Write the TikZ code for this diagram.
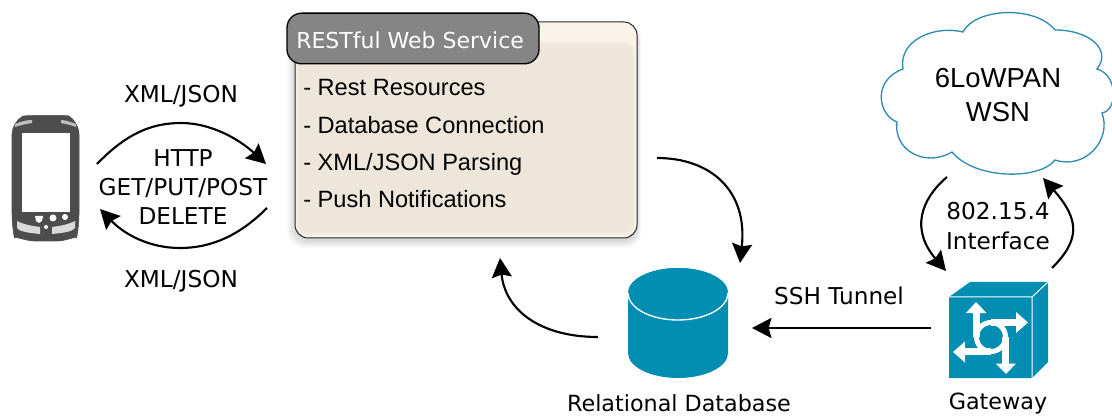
\documentclass[tikz,border=0pt]{standalone}
\usepackage{fontspec}
\setmainfont{DejaVu Sans}
\newfontfamily\boxfont{Liberation Sans}
\usetikzlibrary{arrows.meta}
\definecolor{teal}{RGB}{2,141,178}
\definecolor{cloudline}{RGB}{45,140,180}
\definecolor{paperlight}{RGB}{249,243,234}
\definecolor{paper}{RGB}{239,230,219}
\definecolor{phonegrey}{RGB}{77,77,77}
\definecolor{titlegrey}{RGB}{133,133,133}
\tikzset{
  link/.style={line width=1.6pt,-{Stealth[length=14.5pt,width=15pt,inset=2pt]}},
  label/.style={inner sep=0.75pt,align=center,font=\fontsize{17.4}{22}\selectfont},
  caption/.style={inner sep=0.75pt,align=center,font=\fontsize{16.7}{20}\selectfont},
  item/.style={inner sep=0pt,anchor=base west,font=\boxfont\fontsize{17.7}{20}\selectfont},
}
\begin{document}
\begin{tikzpicture}[x=0.75pt,y=0.75pt,yscale=-1,xscale=1]
        \useasboundingbox (0,0) rectangle (1112,416);

        %Shape: Phone
        \draw [phonegrey,fill=phonegrey,rounded corners=9] (12,122) .. controls (25,115) and (67,115) .. (79,122) -- (79,226) .. controls (77,236) and (65,241) .. (46,241) .. controls (27,241) and (14,236) .. (12,226) -- cycle ;
        \fill [white] (22,133) rectangle (70,212);
        \fill [white!75!black] (15,124) .. controls (20,122) and (26,120) .. (32,120) -- (32,123) .. controls (26,124) and (21,125) .. (15,127) -- cycle ;
        \fill [white!75!black] (76,124) .. controls (71,122) and (65,120) .. (61,120) -- (61,123) .. controls (65,124) and (71,125) .. (76,127) -- cycle ;
        \fill [white!85!black] (17,221) .. controls (25,225) and (33,226) .. (40,227) -- (40,234) .. controls (30,233) and (20,232) .. (17,228) -- cycle ;
        \fill [white!85!black] (75,221) .. controls (67,225) and (59,226) .. (52,227) -- (52,234) .. controls (62,233) and (72,232) .. (75,228) -- cycle ;
        \fill [white] (35,216) -- (43,216) -- (42,221) -- (39,223) -- (36,221) -- cycle ;
        \fill [white] (53,218) circle (3.5) ;
        \fill [white] (65,217) circle (3) ;
        \fill [white] (46,227) circle (2) ;

        %Shape: Service box
        \foreach \i in {1,...,8}
            \fill [black,opacity=0.018,rounded corners=12] (295-\i,26-\i*0.5) rectangle (637+\i*0.5,240+\i) ;
        \node (service) [draw=black!85,line width=0.75pt,fill=paperlight,rounded corners=10,minimum width=256.5pt,minimum height=162pt,inner sep=0pt] at (466,130) {} ;
        \foreach \i in {1,...,6}
            \fill [paper,opacity=0.4,rounded corners=8] (296+\i*0.7,40+\i*1.5) rectangle (636-\i*0.9,236-\i) ;
        \node (title) [draw=black,line width=1pt,fill=titlegrey,rounded corners=11,minimum width=189pt,minimum height=38pt,inner sep=0pt] at (413,38.5) {} ;

        % Text Node
        \node (titleText) [inner sep=0.75pt,anchor=west,text=white,font=\fontsize{16.5}{20}\selectfont] at (295,40) {RESTful Web Service};
        % Text Node
        \node (itemA) [item] at (303,95.5) {- Rest Resources};
        % Text Node
        \node (itemB) [item] at (303,133.5) {- Database Connection};
        % Text Node
        \node (itemC) [item] at (303,170.5) {- XML/JSON Parsing};
        % Text Node
        \node (itemD) [item] at (303,208) {- Push Notifications};

        %Shape: Cloud
        \draw [cloudline,line width=1pt] (963,32) .. controls (975,8) and (1035,5) .. (1055,30) .. controls (1090,30) and (1112,50) .. (1097,69) .. controls (1118,75) and (1118,110) .. (1102,113) .. controls (1112,140) and (1085,170) .. (1055,160) .. controls (1040,180) and (975,180) .. (952,152) .. controls (925,168) and (893,150) .. (897,122) .. controls (878,115) and (872,80) .. (903,69) .. controls (898,40) and (935,25) .. (963,32) -- cycle ;
        % Text Node
        \node (cloudText) [inner sep=0.75pt,align=center,font=\boxfont\fontsize{20.6}{25.5}\selectfont] at (998,95) {6LoWPAN\\WSN};

        %Shape: Gateway
        \fill [teal] (949,297) -- (970,282) -- (1048,282) -- (1048,362) -- (1032,378) -- (949,378) -- cycle ;
        \draw [white,line width=0.75pt] (949,297) -- (1032,297) -- (1048,282) (1032,297) -- (1032,378) ;
        \begin{scope}[white]
            \draw [line width=3.75pt] (991,337) circle (14.5) ;
            \draw [line width=5.25pt] (976.5,312) -- (976.5,337) ;
            \draw [line width=5.25pt] (1017,322.5) -- (991,322.5) ;
            \draw [line width=5.25pt] (964,351.5) -- (991,351.5) ;
            \draw [line width=5.25pt] (1005.5,364) -- (1005.5,337) ;
            \fill (976,302) -- (986.5,313) -- (966,313) -- cycle ;
            \fill (1028,322.5) -- (1016,312) -- (1016,333) -- cycle ;
            \fill (953,352) -- (965,341.5) -- (965,362.5) -- cycle ;
            \fill (1006,374) -- (995.5,363.5) -- (1016,363.5) -- cycle ;
        \end{scope}
        % Text Node
        \node (gatewayText) [caption] at (998,403.5) {Gateway};

        %Shape: Database
        \fill [teal] (628,293) arc (180:360:50 and 25) -- (728,353) arc (0:180:50 and 25) -- cycle ;
        \fill [teal] (678,293) ellipse (50 and 25) ;
        \draw [white,line width=1pt] (628,293) arc (180:0:50 and 27) ;
        % Text Node
        \node (databaseText) [caption] at (679,403.5) {Relational Database};

        % Text Node
        \node (xmlTop) [label] at (181,96) {XML/JSON};
        % Text Node
        \node (xmlBottom) [label] at (181,281) {XML/JSON};
        % Text Node
        \node (httpText) [label] at (183,187) {HTTP\\GET/PUT/POST\\DELETE};
        % Text Node
        \node (sshText) [label] at (839,296) {SSH Tunnel};
        % Text Node
        \node (ifaceText) [label] at (998,226) {802.15.4\\Interface};

        % Connector ends
        \coordinate (phoneOut) at (97,164);
        \coordinate (serviceIn) at (266,164);
        \coordinate (serviceOut) at (267,208);
        \coordinate (phoneIn) at (100,209);
        \coordinate (queryOut) at (657,158);
        \coordinate (queryIn) at (740,263);
        \coordinate (resultOut) at (598,337);
        \coordinate (resultIn) at (500,258);
        \coordinate (tunnelOut) at (931,328);
        \coordinate (tunnelIn) at (752,328);
        \coordinate (cloudOut) at (947,177);
        \coordinate (gatewayIn) at (946,271);
        \coordinate (gatewayOut) at (1052,268);
        \coordinate (cloudIn) at (1043,178);

        \draw [link] (phoneOut) .. controls (125,135) and (150,123) .. (181,123) .. controls (212,123) and (240,140) .. (serviceIn) ;
        \draw [link] (serviceOut) .. controls (240,235) and (212,248) .. (180,248) .. controls (150,248) and (125,235) .. (phoneIn) ;
        \draw [link] (queryOut) .. controls (710,158) and (748,190) .. (queryIn) ;
        \draw [link] (resultOut) .. controls (540,337) and (505,310) .. (resultIn) ;
        \draw [link] (tunnelOut) -- (tunnelIn) ;
        \draw [link] (cloudOut) .. controls (920,200) and (911,230) .. (gatewayIn) ;
        \draw [link] (gatewayOut) .. controls (1080,240) and (1080,220) .. (cloudIn) ;
\end{tikzpicture}
\end{document}
